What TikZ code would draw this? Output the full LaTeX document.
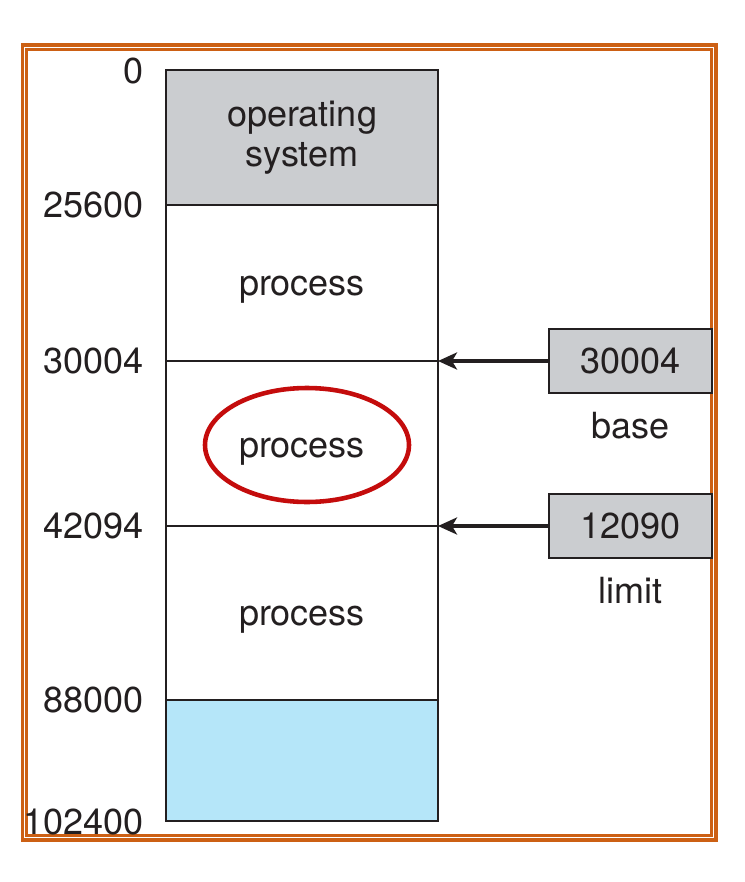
\documentclass[tikz,border=0pt]{standalone}
\usepackage{fontspec}
\setmainfont{TeX Gyre Heros}
\usetikzlibrary{arrows.meta}
\definecolor{osgray}{RGB}{203,205,208}
\definecolor{freeblue}{RGB}{181,230,249}
\definecolor{frameorange}{RGB}{204,96,20}
\definecolor{ringred}{RGB}{196,12,12}
\definecolor{ink}{RGB}{35,31,32}
\tikzset{
    region/.style={draw=ink, line width=0.9pt},
    addr/.style={anchor=east, inner sep=0pt, text=ink},
    txt/.style={anchor=base, inner sep=0pt, text=ink},
    regbox/.style={draw=ink, fill=osgray, line width=0.9pt, minimum width=3.26cm, minimum height=1.28cm, inner sep=0pt, text=ink},
    ptr/.style={draw=ink, line width=2pt, -{Stealth[length=0.38cm,width=0.34cm,inset=0.1cm]}},
}

\begin{document}
\begin{tikzpicture}[x=0.02cm, y=-0.02cm, font=\fontsize{20.5}{22.7}\selectfont]
\useasboundingbox (0,0) rectangle (744,882);
\draw[frameorange, line width=1.8pt] (22.5,45) rectangle (716,840);
\draw[frameorange, line width=1.2pt] (26.5,49.5) rectangle (711.5,835.5);

\filldraw[region, fill=osgray] (166,70) rectangle (438,205);
\draw[region] (166,205) rectangle (438,361);
\draw[region] (166,361) rectangle (438,526);
\draw[region] (166,526) rectangle (438,700);
\filldraw[region, fill=freeblue] (166,700) rectangle (438,821);
\coordinate (bnd30004) at (438,361);
\coordinate (bnd42094) at (438,526);

\node[txt] (osA) at (302,127) {operating};
\node[txt] (osB) at (302,166) {system};
\node[txt] (procA) at (302,295) {process};
\node[txt] (procB) at (302,457) {process};
\node[txt] (procC) at (302,625) {process};
\draw[ringred, line width=2.6pt] (307,445) ellipse (102 and 57);

\node[addr] (a0) at (144,71) {0};
\node[addr] (a25600) at (144,205) {25600};
\node[addr] (a30004) at (144,361) {30004};
\node[addr] (a42094) at (144,526) {42094};
\node[addr] (a88000) at (144,700) {88000};
\node[addr] (a102400) at (144,822) {102400};

\node[regbox] (basereg) at (630.5,361) {30004};
\node[regbox] (limitreg) at (630.5,526) {12090};
\node[txt] (basetxt) at (630.5,438) {base};
\node[txt] (limittxt) at (630.5,603) {limit};

\draw[ptr] (basereg.west) -- (bnd30004);
\draw[ptr] (limitreg.west) -- (bnd42094);
\end{tikzpicture}
\end{document}
